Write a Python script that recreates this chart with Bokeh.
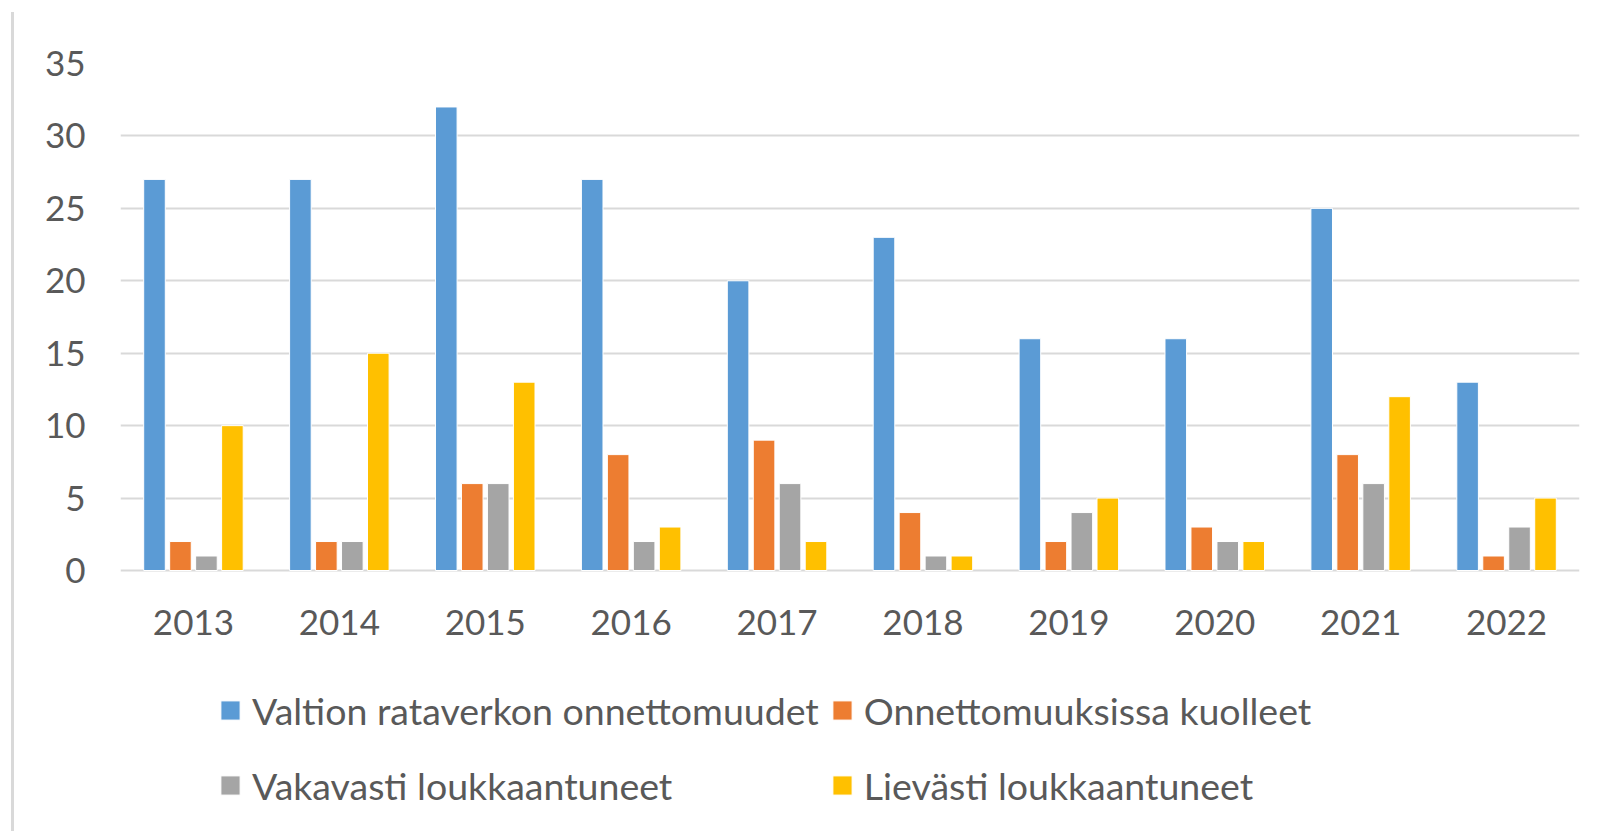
from bokeh.plotting import figure
from bokeh.models import ColumnDataSource, FactorRange, Range1d, Legend, LegendItem, FixedTicker
from bokeh.core.properties import value
from bokeh.transform import dodge
from bokeh.embed import file_html
from bokeh.resources import INLINE

years = ["2013", "2014", "2015", "2016", "2017", "2018", "2019", "2020", "2021", "2022"]
onnettomuudet = [27, 27, 32, 27, 20, 23, 16, 16, 25, 13]
kuolleet = [2, 2, 6, 8, 9, 4, 2, 3, 8, 1]
vakavasti = [1, 2, 6, 2, 6, 1, 4, 2, 6, 3]
lievasti = [10, 15, 13, 3, 2, 1, 5, 2, 12, 5]

series_names = ["Valtion rataverkon onnettomuudet", "Onnettomuuksissa kuolleet",
                "Vakavasti loukkaantuneet", "Lievästi loukkaantuneet"]
colors = ["#5B9BD5", "#ED7D31", "#A5A5A5", "#FFC000"]
y_ticks = [0, 5, 10, 15, 20, 25, 30, 35]

FONT = "Lato"
TXT = "#595959"
GRID = "#D9D9D9"

W, H = 1593, 831
FRAME_L, FRAME_T = 120, 63
PLOT_H = 507          # pixel height of 0..35
Y_MAX = 35
px_per_unit = PLOT_H / Y_MAX
y_min = -(H - FRAME_T - PLOT_H) / px_per_unit   # extra space below 0 for labels + legend

source = ColumnDataSource(dict(year=years, s0=onnettomuudet, s1=kuolleet, s2=vakavasti, s3=lievasti))

p = figure(x_range=FactorRange(*years, range_padding=0), y_range=Range1d(y_min, Y_MAX),
           width=W, height=H,
           min_border_left=FRAME_L, min_border_right=14, min_border_top=FRAME_T, min_border_bottom=0,
           output_backend="svg", toolbar_location=None, tools="")
p.background_fill_color = "white"
p.border_fill_alpha = 0
p.outline_line_color = None
p.styles = {
    "background-color": "white",
    "background-image": "linear-gradient(#D9D9D9, #D9D9D9)",
    "background-size": "3px calc(100% - 12px)",
    "background-position": "11px 12px",
    "background-repeat": "no-repeat",
}

offsets = [-0.267, -0.089, 0.089, 0.267]
renderers = []
for i, (off, col) in enumerate(zip(offsets, colors)):
    r = p.vbar(x=dodge("year", off, range=p.x_range), top="s%d" % i, width=0.148,
               source=source, fill_color=col, line_color="white", line_width=1)
    renderers.append(r)

# category labels under the baseline
label_y = -52 / px_per_unit
p.text(x=years, y=[label_y] * len(years), text=years, text_align="center", text_baseline="middle",
       text_font=value(FONT), text_font_size="35px", text_color=TXT)

p.xaxis.visible = False
p.xgrid.grid_line_color = None
p.ygrid.grid_line_color = GRID
p.ygrid.grid_line_width = 2
p.yaxis.ticker = FixedTicker(ticks=y_ticks)
p.yaxis.axis_line_color = None
p.yaxis.major_tick_line_color = None
p.yaxis.minor_tick_line_color = None
p.yaxis.major_label_standoff = 29
p.yaxis.major_label_text_font = FONT
p.yaxis.major_label_text_font_size = "35px"
p.yaxis.major_label_text_color = TXT

legend = Legend(items=[LegendItem(label=n, renderers=[r]) for n, r in zip(series_names, renderers)],
                orientation="horizontal", ncols=2, location=(98, H - 817))
legend.label_text_font = FONT
legend.label_text_font_size = "37.5px"
legend.label_text_color = TXT
legend.glyph_width = 24
legend.glyph_height = 24
legend.label_standoff = 10
legend.label_height = 64
legend.spacing = 11
legend.padding = 0
legend.margin = 0
legend.border_line_color = None
legend.background_fill_alpha = 0
p.add_layout(legend, "center")

open("out.html", "w").write(file_html(p, INLINE))
